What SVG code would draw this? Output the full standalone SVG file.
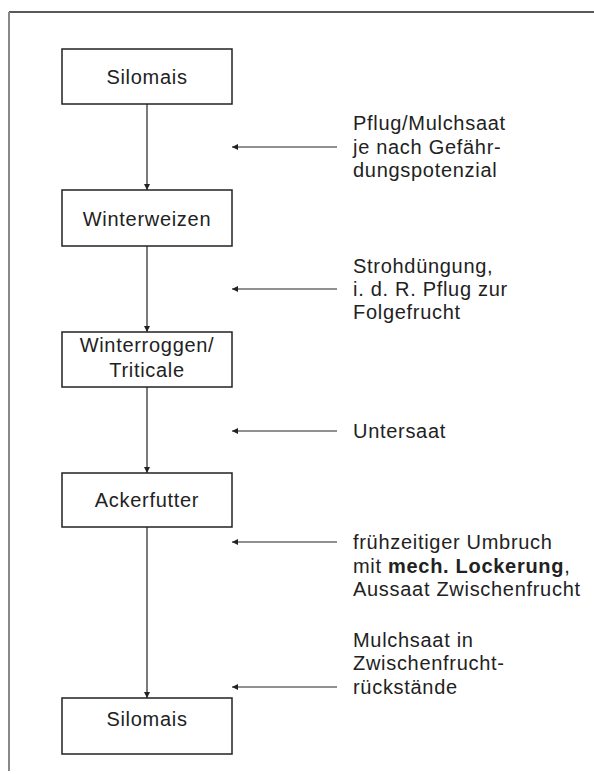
<svg xmlns="http://www.w3.org/2000/svg" width="594" height="774" viewBox="0 0 594 774">
<style>
.box{fill:#fff;stroke:#222;stroke-width:1.5}
.t{font-family:"Liberation Sans",Arial,sans-serif;font-size:20px;letter-spacing:0.7px;fill:#222}
.c{text-anchor:middle}
.ln{stroke:#222;stroke-width:1.2;fill:none}
</style>
<defs>
<marker id="ah" viewBox="0 0 10 10" refX="10" refY="5" markerWidth="7" markerHeight="6" markerUnits="userSpaceOnUse" orient="auto">
<path d="M0,0 L10,5 L0,10 Z" fill="#222"/>
</marker>
</defs>
<rect width="594" height="774" fill="#fff"/>
<g id="frame">
<line x1="9" y1="12" x2="594" y2="12" stroke="#222" stroke-width="1.4"/>
<line x1="9" y1="12" x2="9" y2="771" stroke="#888" stroke-width="2"/>
</g>
<g id="connectors">
<line class="ln" x1="147" y1="104" x2="147" y2="190" marker-end="url(#ah)"/>
<line class="ln" x1="147" y1="246" x2="147" y2="332" marker-end="url(#ah)"/>
<line class="ln" x1="147" y1="387" x2="147" y2="473" marker-end="url(#ah)"/>
<line class="ln" x1="147" y1="527" x2="147" y2="698" marker-end="url(#ah)"/>
<line class="ln" x1="337" y1="147" x2="232" y2="147" marker-end="url(#ah)"/>
<line class="ln" x1="337" y1="289" x2="232" y2="289" marker-end="url(#ah)"/>
<line class="ln" x1="337" y1="431" x2="232" y2="431" marker-end="url(#ah)"/>
<line class="ln" x1="337" y1="542" x2="232" y2="542" marker-end="url(#ah)"/>
<line class="ln" x1="337" y1="687" x2="232" y2="687" marker-end="url(#ah)"/>
</g>
<g id="n1"><rect class="box" x="62" y="49" width="170" height="55"/><text class="t c" x="147" y="84">Silomais</text></g>
<g id="n2"><rect class="box" x="62" y="190" width="170" height="56"/><text class="t c" x="147" y="226">Winterweizen</text></g>
<g id="n3"><rect class="box" x="62" y="332" width="170" height="55"/><text class="t c" x="147" y="352">Winterroggen/</text><text class="t c" x="147" y="377">Triticale</text></g>
<g id="n4"><rect class="box" x="62" y="473" width="170" height="54"/><text class="t c" x="147" y="507">Ackerfutter</text></g>
<g id="n5"><rect class="box" x="62" y="698" width="170" height="56"/><text class="t c" x="147" y="726">Silomais</text></g>
<g id="l1"><text class="t" x="353" y="130">Pflug/Mulchsaat</text><text class="t" x="353" y="154">je nach Gefähr-</text><text class="t" x="353" y="177">dungspotenzial</text></g>
<g id="l2"><text class="t" x="353" y="273">Strohdüngung,</text><text class="t" x="353" y="296">i. d. R. Pflug zur</text><text class="t" x="353" y="319">Folgefrucht</text></g>
<g id="l3"><text class="t" x="353" y="438">Untersaat</text></g>
<g id="l4"><text class="t" x="353" y="549">frühzeitiger Umbruch</text><text class="t" x="353" y="573">mit <tspan font-weight="bold">mech. Lockerung</tspan>,</text><text class="t" x="353" y="596">Aussaat Zwischenfrucht</text></g>
<g id="l5"><text class="t" x="353" y="647">Mulchsaat in</text><text class="t" x="353" y="670">Zwischenfrucht-</text><text class="t" x="353" y="694">rückstände</text></g>
</svg>
